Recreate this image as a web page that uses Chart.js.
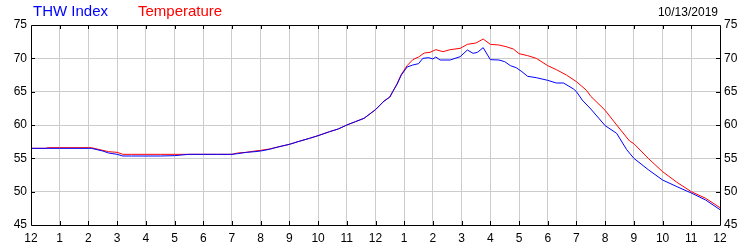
<!DOCTYPE html>
<html>
<head>
<meta charset="utf-8">
<script src="https://cdn.jsdelivr.net/npm/chart.js@4/dist/chart.umd.min.js"></script>
<style>
  html, body { margin: 0; padding: 0; background: #fff; }
  #wrap { position: relative; width: 750px; height: 250px; }
  canvas { position: absolute; left: 0; top: 0; }
  .lbl { position: absolute; font-family: "Liberation Sans", Arial, sans-serif; white-space: nowrap; }
</style>
</head>
<body>
<div id="wrap">
  <canvas id="c" width="750" height="250"></canvas>
  <div class="lbl" style="left:33px; top:2px; font-size:15px; color:#0000ff;">THW Index</div>
  <div class="lbl" style="left:138px; top:2px; font-size:15px; color:#ff0000;">Temperature</div>
  <div class="lbl" style="right:32px; top:5px; font-size:12px; color:#000;">10/13/2019</div>
</div>
<script>
// Hours since midnight (0 = 12 AM, 24 = 12 AM next day)
const tempHours = [0, 0.5, 0.6, 1, 1.5, 2, 2.1, 2.3, 2.5, 2.7, 3.0, 3.2, 3.5, 4, 4.5, 5, 5.5, 6, 6.5, 7, 7.2, 7.5, 7.8, 8, 8.3, 8.6, 9, 9.3, 9.7, 10, 10.4, 10.7, 11, 11.3, 11.6, 12, 12.3, 12.5, 12.6, 12.75, 12.9, 13.1, 13.3, 13.5, 13.7, 13.9, 14.1, 14.35, 14.6, 14.95, 15.2, 15.5, 15.75, 16.0, 16.3, 16.55, 16.8, 17.0, 17.3, 17.6, 18.0, 18.3, 18.65, 19.0, 19.35, 19.5, 20.0, 20.4, 20.85, 21.0, 21.5, 22.0, 22.5, 23.0, 23.5, 24];
const temperature = [56.5, 56.5, 56.6, 56.6, 56.6, 56.6, 56.6, 56.4, 56.2, 56.0, 55.9, 55.6, 55.6, 55.6, 55.6, 55.6, 55.6, 55.6, 55.6, 55.6, 55.8, 55.9, 56.1, 56.2, 56.4, 56.7, 57.1, 57.5, 58.0, 58.4, 59.0, 59.4, 60.0, 60.5, 61.0, 62.3, 63.6, 64.2, 65.0, 66.2, 67.6, 68.9, 69.8, 70.2, 70.8, 70.9, 71.3, 71.0, 71.3, 71.5, 72.1, 72.3, 72.9, 72.1, 72.0, 71.75, 71.4, 70.7, 70.4, 70.0, 68.9, 68.3, 67.5, 66.5, 65.2, 64.3, 62.2, 60.0, 57.6, 57.2, 55.0, 53.0, 51.4, 50.0, 49.0, 47.6];

const thwHours = [0, 1, 2, 2.1, 2.3, 2.5, 2.7, 3.0, 3.2, 3.5, 4, 4.5, 5, 5.5, 6, 6.5, 7, 7.2, 7.5, 7.8, 8, 8.3, 8.6, 9, 9.3, 9.7, 10, 10.4, 10.7, 11, 11.3, 11.6, 12, 12.3, 12.5, 12.6, 12.75, 12.9, 13.1, 13.3, 13.5, 13.65, 13.85, 14.0, 14.1, 14.25, 14.6, 14.95, 15.2, 15.4, 15.55, 15.75, 16.0, 16.3, 16.5, 16.7, 16.9, 17.1, 17.3, 17.6, 18.0, 18.3, 18.55, 18.9, 19.0, 19.2, 19.5, 20.0, 20.4, 20.75, 21.0, 21.5, 22.0, 22.5, 23.0, 23.5, 24];
const thwIndex = [56.5, 56.5, 56.5, 56.5, 56.3, 56.1, 55.8, 55.6, 55.35, 55.35, 55.35, 55.35, 55.4, 55.6, 55.6, 55.6, 55.6, 55.7, 55.9, 56.0, 56.1, 56.35, 56.7, 57.1, 57.5, 58.0, 58.4, 59.0, 59.4, 60.0, 60.5, 61.0, 62.3, 63.6, 64.2, 65.0, 66.1, 67.5, 68.7, 69.0, 69.2, 70.0, 70.1, 69.9, 70.2, 69.75, 69.75, 70.25, 71.25, 70.75, 70.9, 71.6, 69.8, 69.75, 69.5, 68.9, 68.6, 68.0, 67.3, 67.1, 66.7, 66.3, 66.3, 65.4, 65.0, 63.75, 62.4, 59.9, 58.75, 56.3, 55.0, 53.3, 51.75, 50.75, 49.8, 48.75, 47.3];

const hourLabels = ["12","1","2","3","4","5","6","7","8","9","10","11","12","1","2","3","4","5","6","7","8","9","10","11","12"];
const yMin = 45, yMax = 75, yStep = 5;

const toPoints = (xs, ys) => xs.map((x, i) => ({ x: x, y: ys[i] }));

const frame = {
  id: 'frame',
  afterDatasetsDraw(chart) {
    const { ctx, chartArea: a, scales } = chart;
    ctx.save();
    ctx.strokeStyle = '#000';
    ctx.lineWidth = 1;
    ctx.beginPath();
    ctx.rect(Math.round(a.left) + 0.5, Math.round(a.top) + 0.5, Math.round(a.right - a.left), Math.round(a.bottom - a.top));
    ctx.stroke();
    const t = 4;
    ctx.beginPath();
    for (let h = 1; h < 24; h++) {
      const x = Math.round(scales.x.getPixelForValue(h)) + 0.5;
      ctx.moveTo(x, a.top); ctx.lineTo(x, a.top + t);
      ctx.moveTo(x, a.bottom); ctx.lineTo(x, a.bottom - t);
    }
    for (let v = yMin + yStep; v < yMax; v += yStep) {
      const y = Math.round(scales.y.getPixelForValue(v)) + 0.5;
      ctx.moveTo(a.left, y); ctx.lineTo(a.left + t, y);
      ctx.moveTo(a.right, y); ctx.lineTo(a.right - t, y);
    }
    ctx.stroke();
    ctx.restore();
  }
};

const tickFont = { family: '"Liberation Sans", Arial, sans-serif', size: 12 };

new Chart(document.getElementById('c'), {
  type: 'line',
  data: {
    datasets: [
      { label: 'THW Index', data: toPoints(thwHours, thwIndex), borderColor: '#0000ff', borderWidth: 1, pointRadius: 0, tension: 0, order: 0 },
      { label: 'Temperature', data: toPoints(tempHours, temperature), borderColor: '#ff0000', borderWidth: 1, pointRadius: 0, tension: 0, order: 1 }
    ]
  },
  options: {
    responsive: false,
    animation: false,
    events: [],
    layout: { padding: { top: 25, left: 0, right: 0, bottom: 0 } },
    plugins: { legend: { display: false }, tooltip: { enabled: false } },
    scales: {
      x: {
        type: 'linear', min: 0, max: 24,
        grid: { color: '#cccccc', drawTicks: false, lineWidth: 1 },
        border: { display: false },
        ticks: { stepSize: 1, autoSkip: false, maxRotation: 0, padding: 6, color: '#000', font: tickFont,
                 callback: (v) => hourLabels[v] },
        afterFit: (s) => { s.height = 25; }
      },
      y: {
        position: 'left', min: yMin, max: yMax,
        grid: { color: '#cccccc', drawTicks: false, lineWidth: 1 },
        border: { display: false },
        ticks: { stepSize: yStep, padding: 4, color: '#000', font: tickFont },
        afterFit: (s) => { s.width = 31; }
      },
      y2: {
        position: 'right', min: yMin, max: yMax,
        grid: { display: false, drawTicks: false },
        border: { display: false },
        ticks: { stepSize: yStep, padding: 4, color: '#000', font: tickFont },
        afterFit: (s) => { s.width = 30; }
      }
    }
  },
  plugins: [frame]
});
</script>
</body>
</html>
